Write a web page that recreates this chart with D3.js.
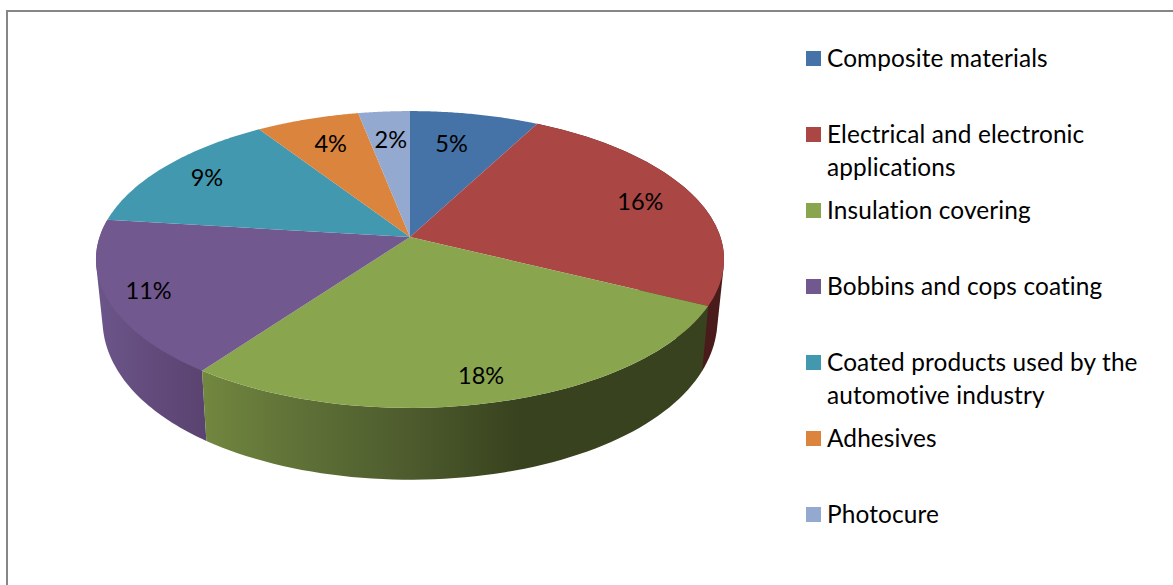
<!DOCTYPE html>
<html>
<head>
<meta charset="utf-8">
<script src="https://cdn.jsdelivr.net/npm/d3@7"></script>
<style>
html,body{margin:0;padding:0;background:#fff;overflow:hidden}
svg{display:block}
text{font-family:Lato,"Noto Sans",sans-serif;fill:#000;font-variant-ligatures:none}
</style>
</head>
<body>
<div id="chart"></div>
<script>
const categories = ["Composite materials","Electrical and electronic applications","Insulation covering","Bobbins and cops coating","Coated products used by the automotive industry","Adhesives","Photocure"];
const legendLines = [["Composite materials"],["Electrical and electronic","applications"],["Insulation covering"],["Bobbins and cops coating"],["Coated products used by the","automotive industry"],["Adhesives"],["Photocure"]];
const values = [5,16,18,11,9,4,2];
const colors = ["#4572a7","#aa4643","#89a54e","#71588f","#4198af","#db843d","#93a9cf"];

const W = 1173, H = 585;
const svg = d3.select("#chart").append("svg").attr("width",W).attr("height",H);

/* frame */
svg.append("path").attr("d",`M7,${H} V11 H${W}`).attr("fill","none").attr("stroke","#868686").attr("stroke-width",2);

/* perspective projection of the pie disc */
const topFace = {cx:410, cy:237, a:310.4, b:145, px:0.1515, py:0.1515};
const botFace = {cx:410, cy:293, a:304,   b:168, px:0.1515, py:0.1};
function project(f, theta, r=1){
  const u = Math.sin(theta)*r, v = -Math.cos(theta)*r;
  return [f.cx + f.a*u/(1-f.px*v), f.cy + f.b*v/(1-f.py*v)];
}
const pie = d3.pie().sort(null).value(d=>d).startAngle(0).endAngle(2*Math.PI);
const arcs = pie(values);
const line = d3.line();
const samples = (a0,a1)=>d3.range(0,1.0001,1/60).map(t=>a0+(a1-a0)*t);

/* gradients for side walls */
const defs = svg.append("defs");
const wallStops = {
  1:[[700,"#4a1b1b"],[724,"#4a1b1b"]],
  2:[[202,"#72873f"],[300,"#5f7137"],[410,"#4d5b2d"],[520,"#38421e"],[705,"#38421e"]],
  3:[[96,"#6c5589"],[205,"#5a4370"]]
};
Object.keys(wallStops).forEach(k=>{
  const st = wallStops[k];
  const x0 = st[0][0], x1 = st[st.length-1][0];
  const g = defs.append("linearGradient").attr("id","wall"+k).attr("gradientUnits","userSpaceOnUse")
    .attr("x1",x0).attr("x2",x1).attr("y1",0).attr("y2",0);
  st.forEach(s=>g.append("stop").attr("offset",(s[0]-x0)/(x1-x0)).attr("stop-color",s[1]));
});

/* walls (back to front): hull gives the straight silhouette tangent at the disc's sides */
const wallOrder = [1,3,2];
svg.append("g").selectAll("path").data(wallOrder).join("path")
  .attr("d",i=>{
    const s = samples(arcs[i].startAngle, arcs[i].endAngle);
    const pts = s.map(t=>project(topFace,t)).concat(s.map(t=>project(botFace,t)));
    if(i===2){
      return line(s.map(t=>project(topFace,t)).concat(s.slice().reverse().map(t=>project(botFace,t))))+"Z";
    }
    return line(d3.polygonHull(pts))+"Z";
  })
  .attr("fill",i=>`url(#wall${i})`);

/* top face */
svg.append("g").selectAll("path").data(arcs).join("path")
  .attr("d",d=>{
    const pts = [[topFace.cx,topFace.cy]].concat(samples(d.startAngle,d.endAngle).map(t=>project(topFace,t)));
    return line(pts)+"Z";
  })
  .attr("fill",(d,i)=>colors[i]);

/* data labels */
const labelRadial = [0.74,0.81,0.86,0.87,0.825,0.77,0.75];
const labelNudge = [-8,0,-2,0,1,2,1];
svg.append("g").selectAll("text").data(arcs).join("text")
  .attr("x",(d,i)=>project(topFace,(d.startAngle+d.endAngle)/2,labelRadial[i])[0]+labelNudge[i])
  .attr("y",(d,i)=>project(topFace,(d.startAngle+d.endAngle)/2,labelRadial[i])[1])
  .attr("text-anchor","middle").attr("dy","0.36em")
  .style("font-size","23.5px")
  .text(d=>d.value+"%");

/* legend */
const legendY = d3.scaleLinear().domain([0,6]).range([51,507]);
const lg = svg.append("g").selectAll("g").data(categories).join("g")
  .attr("transform",(d,i)=>`translate(806,${legendY(i)})`);
lg.append("rect").attr("width",15).attr("height",15).attr("fill",(d,i)=>colors[i]);
lg.each(function(d,i){
  const g = d3.select(this);
  legendLines[i].forEach((l,j)=>{
    g.append("text").attr("x",21).attr("y",15.6+j*33).style("font-size","24.4px").style("letter-spacing","0.12px").text(l);
  });
});
</script>
</body>
</html>
